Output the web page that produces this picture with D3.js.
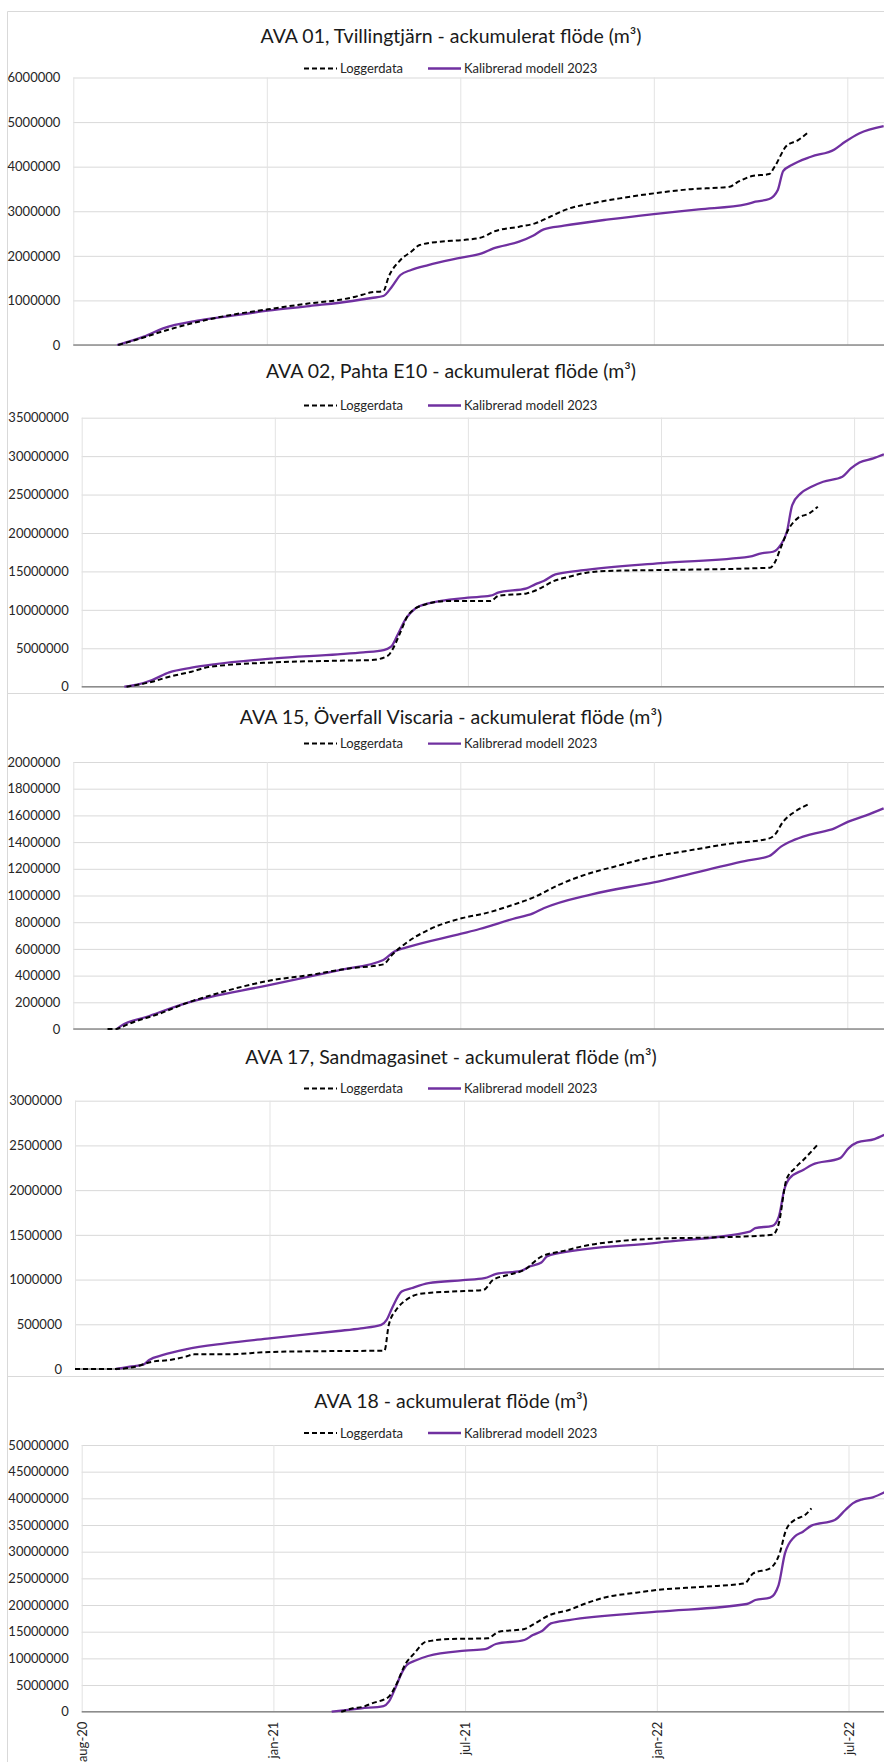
<!DOCTYPE html>
<html>
<head>
<meta charset="utf-8">
<script src="https://cdn.jsdelivr.net/npm/d3@7"></script>
<style>
  body { margin: 0; background: #fff; }
  svg { display: block; font-family: Lato, "Open Sans", sans-serif; }
</style>
</head>
<body>
<svg id="chart" width="884" height="1762"></svg>
<script>
// x = dag sedan 2020-08-01 (kategoriaxel, etikett var 181:a dag)
var tickDays = [0, 181, 362, 543, 724];
var tickLabels = ["aug-20", "jan-21", "jul-21", "jan-22", "jul-22"];
var seriesNames = ["Loggerdata", "Kalibrerad modell 2023"];

var titles = [
  "AVA 01, Tvillingtjärn - ackumulerat flöde (m³)",
  "AVA 02, Pahta E10 - ackumulerat flöde (m³)",
  "AVA 15, Överfall Viscaria - ackumulerat flöde (m³)",
  "AVA 17, Sandmagasinet - ackumulerat flöde (m³)",
  "AVA 18 - ackumulerat flöde (m³)"
];

// AVA 01
var ava01YTicks = [0, 1000000, 2000000, 3000000, 4000000, 5000000, 6000000];
var ava01LoggerDag = [42, 58, 90, 111, 142, 182, 221, 248, 264, 279, 290, 295, 306, 316, 324, 343, 364, 382, 393, 417, 432, 446, 464, 480, 511, 543, 575, 614, 622, 635, 651, 656, 667, 678, 688];
var ava01LoggerFlode = [0, 112000, 351000, 486000, 650000, 800000, 934000, 1009000, 1084000, 1181000, 1211000, 1532000, 1906000, 2093000, 2242000, 2317000, 2354000, 2414000, 2541000, 2653000, 2728000, 2877000, 3064000, 3154000, 3289000, 3401000, 3490000, 3550000, 3662000, 3789000, 3834000, 3998000, 4462000, 4596000, 4783000];
var ava01ModellDag = [41, 66, 84, 116, 142, 182, 221, 261, 279, 290, 298, 306, 316, 332, 363, 382, 393, 417, 430, 440, 459, 501, 543, 585, 630, 638, 651, 659, 664, 672, 690, 712, 722, 735, 758];
var ava01ModellFlode = [0, 187000, 374000, 546000, 635000, 770000, 874000, 987000, 1054000, 1099000, 1308000, 1570000, 1682000, 1794000, 1958000, 2055000, 2167000, 2317000, 2451000, 2593000, 2676000, 2818000, 2937000, 3042000, 3161000, 3214000, 3274000, 3475000, 3901000, 4036000, 4223000, 4387000, 4559000, 4746000, 4910000];

// AVA 02
var ava02YTicks = [0, 5000000, 10000000, 15000000, 20000000, 25000000, 30000000, 35000000];
var ava02LoggerDag = [42, 66, 82, 103, 119, 181, 240, 272, 287, 291, 299, 306, 320, 341, 383, 391, 417, 431, 441, 457, 473, 499, 543, 645, 650, 655, 663, 671, 682, 690];
var ava02LoggerFlode = [0, 650000, 1300000, 1950000, 2560000, 3170000, 3380000, 3470000, 4030000, 4770000, 7160000, 9320000, 10620000, 11140000, 11140000, 11840000, 12140000, 12880000, 13660000, 14310000, 14830000, 15090000, 15180000, 15480000, 16260000, 18000000, 20600000, 21900000, 22550000, 23420000];
var ava02ModellDag = [40, 53, 66, 82, 103, 124, 181, 240, 264, 283, 290, 296, 304, 312, 325, 362, 383, 391, 417, 425, 433, 444, 468, 543, 626, 637, 648, 655, 661, 666, 674, 684, 695, 713, 721, 729, 742, 752];
var ava02ModellFlode = [0, 300000, 870000, 1860000, 2470000, 2910000, 3690000, 4210000, 4470000, 4770000, 5200000, 6720000, 8890000, 10100000, 10840000, 11580000, 11840000, 12270000, 12790000, 13310000, 13750000, 14610000, 15130000, 16090000, 16910000, 17350000, 17560000, 18430000, 20160000, 23630000, 25150000, 26020000, 26670000, 27320000, 28400000, 29180000, 29700000, 30230000];

// AVA 15
var ava15YTicks = [0, 200000, 400000, 600000, 800000, 1000000, 1200000, 1400000, 1600000, 1800000, 2000000];
var ava15LoggerDag = [32, 40, 44, 53, 79, 105, 132, 158, 182, 221, 258, 290, 298, 311, 332, 363, 385, 406, 432, 454, 480, 506, 543, 575, 617, 649, 656, 664, 675, 688];
var ava15LoggerFlode = [0, 0, 10000, 42000, 110000, 192000, 260000, 317000, 360000, 404000, 454000, 484000, 554000, 642000, 742000, 829000, 866000, 916000, 991000, 1079000, 1159000, 1216000, 1291000, 1336000, 1391000, 1423000, 1453000, 1553000, 1628000, 1685000];
var ava15ModellDag = [41, 45, 69, 105, 182, 248, 290, 300, 311, 363, 380, 411, 430, 440, 485, 543, 628, 651, 662, 672, 690, 712, 725, 741, 758];
var ava15ModellFlode = [0, 25000, 92000, 192000, 327000, 440000, 517000, 579000, 609000, 714000, 749000, 824000, 866000, 904000, 1009000, 1099000, 1258000, 1296000, 1366000, 1408000, 1458000, 1503000, 1553000, 1598000, 1653000];

// AVA 17
var ava17YTicks = [0, 500000, 1000000, 1500000, 2000000, 2500000, 3000000];
var ava17LoggerDag = [0, 38, 56, 72, 88, 103, 111, 140, 181, 245, 288, 292, 300, 308, 321, 350, 380, 389, 403, 418, 434, 455, 476, 497, 543, 592, 649, 655, 662, 670, 678, 691];
var ava17LoggerFlode = [0, 0, 26000, 82000, 101000, 138000, 164000, 164000, 190000, 201000, 205000, 493000, 679000, 772000, 840000, 866000, 884000, 996000, 1052000, 1108000, 1257000, 1321000, 1381000, 1418000, 1459000, 1470000, 1500000, 1631000, 2116000, 2246000, 2340000, 2507000];
var ava17ModellDag = [38, 51, 64, 69, 82, 103, 140, 181, 245, 266, 285, 290, 295, 304, 313, 329, 361, 381, 392, 415, 423, 434, 439, 450, 543, 628, 633, 649, 655, 660, 665, 678, 686, 712, 720, 728, 744, 753];
var ava17ModellFlode = [0, 26000, 52000, 101000, 157000, 220000, 287000, 343000, 425000, 455000, 493000, 549000, 679000, 866000, 903000, 959000, 993000, 1015000, 1063000, 1097000, 1146000, 1190000, 1257000, 1295000, 1414000, 1537000, 1575000, 1601000, 1705000, 2004000, 2134000, 2228000, 2284000, 2358000, 2470000, 2534000, 2571000, 2619000];

// AVA 18
var ava18YTicks = [0, 5000000, 10000000, 15000000, 20000000, 25000000, 30000000, 35000000, 40000000, 45000000, 50000000];
var ava18LoggerDag = [245, 256, 266, 274, 290, 296, 306, 314, 325, 349, 383, 394, 418, 428, 442, 460, 476, 497, 519, 543, 588, 626, 634, 650, 659, 665, 673, 683, 689];
var ava18LoggerFlode = [0, 630000, 940000, 1560000, 2810000, 4690000, 9060000, 10940000, 13130000, 13630000, 13750000, 15000000, 15500000, 16560000, 18130000, 19060000, 20310000, 21560000, 22190000, 22810000, 23440000, 24060000, 25940000, 26880000, 29690000, 34060000, 35940000, 36880000, 38130000];
var ava18ModellDag = [236, 264, 285, 290, 296, 302, 307, 314, 327, 362, 381, 391, 418, 426, 435, 443, 460, 543, 628, 636, 650, 658, 664, 673, 681, 689, 711, 721, 728, 737, 747, 758];
var ava18ModellFlode = [0, 630000, 1060000, 1880000, 4380000, 7190000, 8750000, 9500000, 10440000, 11440000, 11750000, 12690000, 13440000, 14380000, 15190000, 16560000, 17190000, 18750000, 20190000, 20940000, 21380000, 23750000, 29690000, 32810000, 33750000, 34880000, 35940000, 37810000, 39060000, 39810000, 40190000, 41130000];

var W = 884;
var svg = d3.select("#chart");

var panels = [
  { title: titles[0], yTicks: ava01YTicks, logger: [ava01LoggerDag, ava01LoggerFlode], modell: [ava01ModellDag, ava01ModellFlode],
    left: 73.3, step: 193.5, top: 77.5, bottom: 345, titleY: 43, legendY: 68.5 },
  { title: titles[1], yTicks: ava02YTicks, logger: [ava02LoggerDag, ava02LoggerFlode], modell: [ava02ModellDag, ava02ModellFlode],
    left: 81.7, step: 193.1, top: 417.7, bottom: 686.7, titleY: 378, legendY: 405.5 },
  { title: titles[2], yTicks: ava15YTicks, logger: [ava15LoggerDag, ava15LoggerFlode], modell: [ava15ModellDag, ava15ModellFlode],
    left: 73.3, step: 193.5, top: 762, bottom: 1029, titleY: 724, legendY: 743.6 },
  { title: titles[3], yTicks: ava17YTicks, logger: [ava17LoggerDag, ava17LoggerFlode], modell: [ava17ModellDag, ava17ModellFlode],
    left: 75, step: 194.5, top: 1100.7, bottom: 1369, titleY: 1064, legendY: 1088.5 },
  { title: titles[4], yTicks: ava18YTicks, logger: [ava18LoggerDag, ava18LoggerFlode], modell: [ava18ModellDag, ava18ModellFlode],
    left: 81.7, step: 191.7, top: 1445, bottom: 1711.7, titleY: 1408, legendY: 1433, xLabels: true }
];

// chart area borders
svg.append("g")
    .attr("stroke", "#d9d9d9")
    .attr("fill", "none")
  .selectAll("line")
  .data([[7.5, 11.5, W, 11.5], [7.5, 11.5, 7.5, 1762], [7.5, 693.5, W, 693.5], [7.5, 1376.5, W, 1376.5]])
  .enter().append("line")
    .attr("x1", function(d) { return d[0]; })
    .attr("y1", function(d) { return d[1]; })
    .attr("x2", function(d) { return d[2]; })
    .attr("y2", function(d) { return d[3]; });

panels.forEach(function(p) {
  var x = d3.scaleLinear()
      .domain([tickDays[0], tickDays[tickDays.length - 1]])
      .range([p.left, p.left + (tickDays.length - 1) * p.step]);

  var y = d3.scaleLinear()
      .domain([0, d3.max(p.yTicks)])
      .range([p.bottom, p.top]);

  var g = svg.append("g");

  // horizontal gridlines
  g.append("g")
      .attr("transform", "translate(" + p.left + ",0)")
      .call(d3.axisLeft(y).tickValues(p.yTicks).tickSize(-(W - p.left)).tickFormat(""))
      .call(function(a) { a.select(".domain").remove(); })
      .call(function(a) { a.selectAll("line").attr("stroke", "#d9d9d9"); });

  // vertical gridlines
  g.append("g")
      .attr("transform", "translate(0," + p.bottom + ")")
      .call(d3.axisBottom(x).tickValues(tickDays).tickSize(-(p.bottom - p.top)).tickFormat(""))
      .call(function(a) { a.select(".domain").remove(); })
      .call(function(a) { a.selectAll("line").attr("stroke", "#e3e3e3"); });

  // y labels
  g.append("g")
      .attr("transform", "translate(" + p.left + ",0)")
      .call(d3.axisLeft(y).tickValues(p.yTicks).tickSize(0).tickPadding(13).tickFormat(d3.format("d")))
      .call(function(a) { a.select(".domain").remove(); })
      .call(function(a) {
        a.selectAll("text").attr("fill", "#262626").style("font-size", "13px").style("font-family", "Lato, sans-serif");
      });

  // x axis line
  g.append("line")
      .attr("x1", p.left).attr("x2", W)
      .attr("y1", y(0)).attr("y2", y(0))
      .attr("stroke", "#8c8c8c")
      .attr("stroke-width", 1.4);

  if (p.xLabels) {
    g.append("g")
        .attr("transform", "translate(0," + p.bottom + ")")
        .call(d3.axisBottom(x).tickValues(tickDays).tickSize(0).tickFormat(function(d, i) { return tickLabels[i]; }))
        .call(function(a) { a.select(".domain").remove(); })
      .selectAll("text")
        .attr("transform", "rotate(-90)")
        .attr("x", -10)
        .attr("y", 0)
        .attr("dy", "0.35em")
        .attr("fill", "#262626")
        .style("text-anchor", "end")
        .style("font-size", "13px")
        .style("font-family", "Lato, sans-serif");
  }

  var line = d3.line()
      .curve(d3.curveMonotoneX)
      .x(function(d) { return x(d[0]); })
      .y(function(d) { return y(d[1]); });

  g.append("path")
      .datum(d3.zip(p.modell[0], p.modell[1]))
      .attr("fill", "none")
      .attr("stroke", "#7030a0")
      .attr("stroke-width", 2.3)
      .attr("d", line);

  g.append("path")
      .datum(d3.zip(p.logger[0], p.logger[1]))
      .attr("fill", "none")
      .attr("stroke", "#000")
      .attr("stroke-width", 2)
      .attr("stroke-dasharray", "5,3")
      .attr("d", line);

  // title
  g.append("text")
      .attr("x", 451)
      .attr("y", p.titleY)
      .attr("text-anchor", "middle")
      .attr("fill", "#1a1a1a")
      .style("font-size", "19.5px")
      .text(p.title);

  // legend
  var lg = g.append("g").attr("transform", "translate(0," + p.legendY + ")");
  lg.append("line")
      .attr("x1", 304).attr("x2", 337)
      .attr("stroke", "#000").attr("stroke-width", 2).attr("stroke-dasharray", "5,3");
  lg.append("text")
      .attr("x", 340).attr("dy", "0.35em")
      .attr("fill", "#262626").style("font-size", "13px")
      .text(seriesNames[0]);
  lg.append("line")
      .attr("x1", 428).attr("x2", 461)
      .attr("stroke", "#7030a0").attr("stroke-width", 2.3);
  lg.append("text")
      .attr("x", 464).attr("dy", "0.35em")
      .attr("fill", "#262626").style("font-size", "13px")
      .text(seriesNames[1]);
});
</script>
</body>
</html>
